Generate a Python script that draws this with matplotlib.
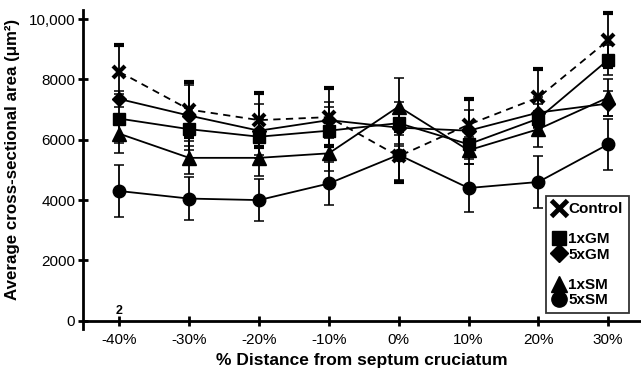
import numpy as np
import matplotlib
matplotlib.use('Agg')
import matplotlib.pyplot as plt
from matplotlib.lines import Line2D

plt.rcParams['font.family'] = ['Liberation Sans', 'DejaVu Sans']

# % distance from septum cruciatum
distance = [-40, -30, -20, -10, 0, 10, 20, 30]
tick_labels = ['-40%', '-30%', '-20%', '-10%', '0%', '10%', '20%', '30%']

# mean cross-sectional area (um^2) and error bars
control = [8250, 7000, 6650, 6750, 5450, 6500, 7400, 9300]
control_err = [900, 900, 900, 950, 850, 850, 950, 900]
gm1 = [6700, 6350, 6100, 6300, 6550, 5850, 6700, 8650]
gm1_err = [800, 700, 600, 800, 700, 500, 500, 500]
gm5 = [7350, 6800, 6300, 6650, 6400, 6300, 6900, 7200]
gm5_err = [250, 1000, 900, 600, 600, 700, 500, 400]
sm1 = [6200, 5400, 5400, 5550, 7100, 5650, 6350, 7400]
sm1_err = [650, 550, 600, 600, 950, 450, 600, 600]
sm5 = [4300, 4050, 4000, 4550, 5500, 4400, 4600, 5850]
sm5_err = [850, 700, 700, 700, 850, 800, 850, 850]

yticks = [0, 2000, 4000, 6000, 8000, 10000]
ytick_labels = ['0', '2000', '4000', '6000', '8000', '10,000']

fig = plt.figure(figsize=(6.41, 3.70), dpi=100)
ax = fig.add_axes([0.1295, 0.111, 0.8705, 0.862])

series = [
    ('5xSM', sm5, sm5_err, 'o', '-', 9),
    ('1xSM', sm1, sm1_err, '^', '-', 9.5),
    ('1xGM', gm1, gm1_err, 's', '-', 8.5),
    ('5xGM', gm5, gm5_err, 'D', '-', 7.5),
]
for name, vals, err, mk, ls, ms in series:
    ax.errorbar(distance, vals, yerr=err, color='black', marker=mk, ms=ms,
                linestyle=ls, lw=1.3, elinewidth=1.3, capsize=3.5, capthick=1.1)

ax.errorbar(distance, control, yerr=control_err, color='black', marker='x', ms=9,
            mew=3, linestyle=(0, (4, 3)), lw=1.3, elinewidth=1.3, capsize=3.5,
            capthick=1.1)

ax.text(-40, 120, '2', ha='center', va='bottom', fontsize=9, fontweight='bold')

ax.set_xlim(-45.2, 34.7)
ax.set_ylim(-270, 10300)
ax.spines['top'].set_visible(False)
ax.spines['right'].set_visible(False)
ax.spines['bottom'].set_position(('data', 0))
ax.spines['left'].set_linewidth(2)
ax.spines['bottom'].set_linewidth(2)

ax.set_xticks(distance)
ax.set_xticklabels(tick_labels, fontsize=11)
ax.set_yticks(yticks)
ax.set_yticklabels(ytick_labels, fontsize=11)
ax.tick_params(axis='both', direction='inout', length=7, width=2, pad=2)
ax.tick_params(axis='x', pad=5)

ax.set_ylabel('Average cross-sectional area (μm²)', fontsize=12.2,
              fontweight='bold')
ax.yaxis.set_label_coords(-0.113, 0.53)
ax.text(-5.3, -1060, '% Distance from septum cruciatum', ha='center', va='top',
        fontsize=12.5, fontweight='bold')

blank = Line2D([], [], linestyle='none', marker='none')
handles = [
    Line2D([], [], color='black', marker='x', ms=11, mew=3.5, linestyle='none'),
    blank,
    Line2D([], [], color='black', marker='s', ms=10, linestyle='none'),
    Line2D([], [], color='black', marker='D', ms=9, linestyle='none'),
    blank,
    Line2D([], [], color='black', marker='^', ms=11, linestyle='none'),
    Line2D([], [], color='black', marker='o', ms=11, linestyle='none'),
]
labels = ['Control', '', '1xGM', '5xGM', '', '1xSM', '5xSM']
leg = ax.legend(handles, labels, loc='upper left', bbox_to_anchor=(0.83, 0.417),
                frameon=True, fancybox=False, edgecolor='black',
                prop={'weight': 'bold', 'size': 11}, handlelength=0.9,
                handletextpad=0.15, labelspacing=0.08, borderpad=0.4,
                borderaxespad=0)
leg.get_frame().set_linewidth(1.3)

fig.savefig('out.png', dpi=100)
